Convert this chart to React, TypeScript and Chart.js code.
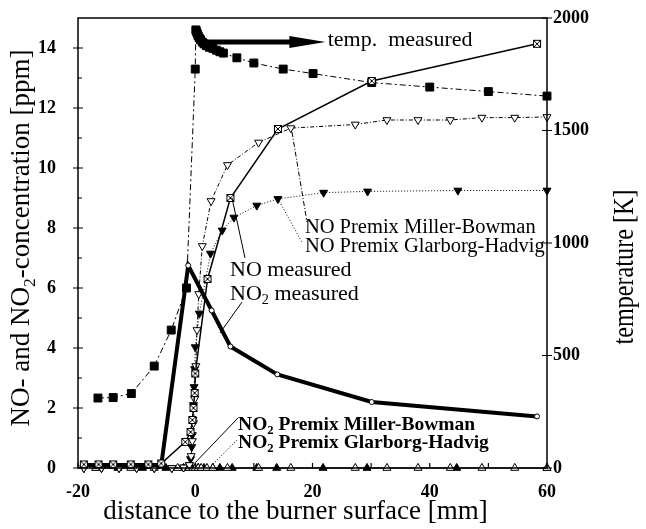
import React, { useEffect, useRef } from 'react';
import { Chart, registerables } from 'chart.js';

Chart.register(...registerables);

// ---------- data (x in mm, NO/NO2 in ppm, temperature in K) ----------
const tempX = [-16.6, -14.0, -10.9, -7.0, -4.1, -1.5, 0.0, 0.1, 0.2, 0.35, 0.5, 0.7, 0.9, 1.2, 1.5, 1.9, 2.4, 3.0, 3.6, 4.2, 4.8, 7.1, 10.0, 15.0, 20.1, 30.1, 40.0, 50.0, 60.0];
const tempK = [311, 313, 331, 453, 613, 800, 1773, 1947, 1940, 1930, 1920, 1911, 1903, 1893, 1885, 1877, 1870, 1865, 1857, 1850, 1844, 1823, 1800, 1773, 1753, 1713, 1693, 1673, 1653];

const noMeasX = [-19.0, -16.5, -14.0, -11.0, -8.0, -5.8, -1.7, -0.8, -0.5, -0.3, -0.1, 0.0, 2.1, 6.0, 14.1, 30.1, 58.3];
const noMeasY = [0.12, 0.12, 0.12, 0.12, 0.12, 0.15, 0.87, 1.2, 1.6, 2.0, 2.5, 3.15, 6.3, 9.0, 11.3, 12.9, 14.14];

const no2MeasX = [-19.0, -16.5, -14.0, -11.0, -8.0, -5.8, -1.2, 2.8, 6.0, 14.0, 30.1, 58.3];
const no2MeasY = [0.1, 0.1, 0.1, 0.1, 0.1, 0.1, 6.75, 5.25, 4.05, 3.12, 2.2, 1.72];

const noMBX = [-19, -16, -13, -10, -7, -4, -2, -1.0, -0.7, -0.5, -0.3, -0.1, 0.1, 0.3, 0.6, 1.2, 2.7, 5.5, 10.8, 16.3, 27.3, 32.7, 38.0, 43.5, 48.9, 54.5, 60];
const noMBY = [0, 0, 0, 0, 0, 0, 0.02, 0.1, 0.4, 0.9, 1.5, 2.3, 3.4, 4.6, 5.8, 7.4, 8.9, 10.1, 10.85, 11.33, 11.45, 11.6, 11.6, 11.6, 11.68, 11.68, 11.7];

const noGHX = [-19, -16, -13, -10, -7, -4, -2, -1.0, -0.8, -0.6, -0.5, -0.4, -0.3, -0.2, -0.1, 0.0, 0.7, 2.6, 4.6, 6.6, 10.5, 14.1, 21.9, 29.4, 44.8, 60];
const noGHY = [0, 0, 0, 0, 0, 0, 0.02, 0.1, 0.3, 0.7, 1.1, 1.6, 2.1, 2.7, 3.3, 4.03, 5.15, 7.15, 7.92, 8.35, 8.75, 8.97, 9.18, 9.22, 9.25, 9.25];

const no2MBX = [-17, -11, -7, -3, -1, 0, 0.5, 1.0, 2.0, 3.0, 5.5, 10.8, 16.3, 27.3, 32.7, 38.0, 43.5, 48.9, 54.5, 60];
const no2MBY = [0, 0, 0, 0, 0, 0, 0, 0, 0, 0, 0, 0, 0, 0, 0, 0, 0, 0, 0, 0];

const no2GHX = [-16.8, -13.2, -9, -5, -2, -0.5, 0.5, 1.5, 3.0, 4.2, 6.3, 10.5, 13.9, 21.8, 29.3, 44.6, 60];
const no2GHY = [0, 0, 0, 0, 0, 0, 0, 0, 0, 0, 0, 0, 0, 0, 0, 0, 0];

// axis ranges / ticks
const xRange = [-20, 60];
const yRange = [0, 15];
const tRange = [0, 2000];

// annotation anchors (data coordinates: x in mm, y in ppm)
type Seg = { t: string; sub?: boolean };
const labels: { segs: Seg[]; x: number; y: number; size: number; bold: boolean }[] = [
  { segs: [{ t: 'temp.  measured' }], x: 22.6, y: 14.27, size: 22, bold: false },
  { segs: [{ t: 'NO Premix Miller-Bowman' }], x: 18.7, y: 8.0, size: 20.5, bold: false },
  { segs: [{ t: 'NO Premix Glarborg-Hadvig' }], x: 18.7, y: 7.37, size: 20.5, bold: false },
  { segs: [{ t: 'NO measured' }], x: 5.93, y: 6.6, size: 22, bold: false },
  { segs: [{ t: 'NO' }, { t: '2', sub: true }, { t: ' measured' }], x: 5.93, y: 5.8, size: 22, bold: false },
  { segs: [{ t: 'NO' }, { t: '2', sub: true }, { t: ' Premix Miller-Bowman' }], x: 7.3, y: 1.43, size: 19.5, bold: true },
  { segs: [{ t: 'NO' }, { t: '2', sub: true }, { t: ' Premix Glarborg-Hadvig' }], x: 7.3, y: 0.83, size: 19.5, bold: true },
];
const leaders: { x0: number; y0: number; x1: number; y1: number; dash: number[] }[] = [
  { x0: 16.5, y0: 11.2, x1: 19.06, y1: 8.2, dash: [5, 2, 1, 2] },
  { x0: 14.1, y0: 8.97, x1: 18.2, y1: 7.53, dash: [1, 2] },
  { x0: 6.27, y0: 9.0, x1: 8.49, y1: 7.0, dash: [] },
  { x0: 7.97, y0: 5.53, x1: 4.22, y1: 4.5, dash: [] },
  { x0: 7.3, y0: 1.67, x1: -0.04, y1: 0.17, dash: [] },
  { x0: 7.12, y0: 0.93, x1: 2.86, y1: 0.1, dash: [1, 2] },
];
const arrow = { x0: 1.4, x1: 22.2, y: 14.2 };

const SERIF = "'Liberation Serif', 'Times New Roman', serif";

function pts(xs: number[], ys: number[]) {
  return xs.map((x, i) => ({ x, y: ys[i] }));
}

function makeBoxX(): HTMLCanvasElement {
  const c = document.createElement('canvas');
  c.width = 10;
  c.height = 10;
  const g = c.getContext('2d')!;
  g.fillStyle = '#fff';
  g.fillRect(1, 1, 8, 8);
  g.strokeStyle = '#000';
  g.lineWidth = 1;
  g.strokeRect(1.5, 1.5, 7, 7);
  g.beginPath();
  g.moveTo(1.5, 1.5);
  g.lineTo(8.5, 8.5);
  g.moveTo(8.5, 1.5);
  g.lineTo(1.5, 8.5);
  g.stroke();
  return c;
}

function richWidth(ctx: CanvasRenderingContext2D, segs: Seg[], size: number, bold: boolean) {
  let w = 0;
  for (const s of segs) {
    const fs = s.sub ? size * 0.65 : size;
    ctx.font = `${bold ? 'bold ' : ''}${fs}px ${SERIF}`;
    w += ctx.measureText(s.t).width;
  }
  return w;
}

function drawRich(ctx: CanvasRenderingContext2D, segs: Seg[], x: number, y: number, size: number, bold: boolean) {
  ctx.textBaseline = 'middle';
  ctx.textAlign = 'left';
  let cx = x;
  for (const s of segs) {
    const fs = s.sub ? size * 0.65 : size;
    ctx.font = `${bold ? 'bold ' : ''}${fs}px ${SERIF}`;
    ctx.fillText(s.t, cx, s.sub ? y + size * 0.3 : y);
    cx += ctx.measureText(s.t).width;
  }
}

const decorPlugin = {
  id: 'decor',
  afterDraw(chart: any) {
    const ctx: CanvasRenderingContext2D = chart.ctx;
    const { left, right, top, bottom } = chart.chartArea;
    const sx = chart.scales.x;
    const sy = chart.scales.y;
    const st = chart.scales.y2;
    ctx.save();
    ctx.strokeStyle = '#000';
    ctx.fillStyle = '#000';
    // frame
    ctx.lineWidth = 1.5;
    ctx.strokeRect(left, top, right - left, bottom - top);
    // tick marks
    ctx.lineWidth = 1.2;
    ctx.beginPath();
    for (let v = xRange[0]; v <= xRange[1]; v += 10) {
      const px = sx.getPixelForValue(v);
      ctx.moveTo(px, bottom);
      ctx.lineTo(px, bottom - 5);
    }
    for (let v = yRange[0]; v < yRange[1]; v += 1) {
      const py = sy.getPixelForValue(v);
      if (v % 2 === 0) {
        ctx.moveTo(left - 5, py);
        ctx.lineTo(left + 5, py);
      } else {
        ctx.moveTo(left, py);
        ctx.lineTo(left + 4, py);
      }
    }
    for (let v = tRange[0]; v <= tRange[1]; v += 500) {
      const py = st.getPixelForValue(v);
      ctx.moveTo(right - 5, py);
      ctx.lineTo(right + 5, py);
    }
    ctx.stroke();

    // leader lines
    ctx.lineWidth = 1;
    for (const l of leaders) {
      ctx.setLineDash(l.dash);
      ctx.beginPath();
      ctx.moveTo(sx.getPixelForValue(l.x0), sy.getPixelForValue(l.y0));
      ctx.lineTo(sx.getPixelForValue(l.x1), sy.getPixelForValue(l.y1));
      ctx.stroke();
    }
    ctx.setLineDash([]);

    // arrow for temperature
    const ax0 = sx.getPixelForValue(arrow.x0);
    const ax1 = sx.getPixelForValue(arrow.x1);
    const ay = sy.getPixelForValue(arrow.y);
    ctx.lineWidth = 5;
    ctx.beginPath();
    ctx.moveTo(ax0, ay);
    ctx.lineTo(ax1 - 34, ay);
    ctx.stroke();
    ctx.beginPath();
    ctx.moveTo(ax1 - 36, ay - 6);
    ctx.lineTo(ax1, ay);
    ctx.lineTo(ax1 - 36, ay + 6);
    ctx.closePath();
    ctx.fill();

    // labels
    for (const lb of labels) {
      drawRich(ctx, lb.segs, sx.getPixelForValue(lb.x), sy.getPixelForValue(lb.y), lb.size, lb.bold);
    }

    // axis titles
    const cxArea = (left + right) / 2;
    ctx.font = `27px ${SERIF}`;
    ctx.textAlign = 'center';
    ctx.textBaseline = 'middle';
    ctx.fillText('distance to the burner surface [mm]', cxArea - 17, bottom + 44);

    const ySegs: Seg[] = [{ t: 'NO- and NO' }, { t: '2', sub: true }, { t: '-concentration [ppm]' }];
    const yw = richWidth(ctx, ySegs, 27, false);
    ctx.save();
    ctx.translate(left - 56, (top + bottom) / 2 - 5);
    ctx.rotate(-Math.PI / 2);
    drawRich(ctx, ySegs, -yw / 2, 0, 27, false);
    ctx.restore();

    ctx.save();
    ctx.font = `26px ${SERIF}`;
    const tt = 'temperature [K]';
    const tw = ctx.measureText(tt).width;
    ctx.translate(right + 78, 267);
    ctx.rotate(-Math.PI / 2);
    ctx.scale(155 / tw, 1.1);
    ctx.textAlign = 'center';
    ctx.textBaseline = 'middle';
    ctx.fillText(tt, 0, 0);
    ctx.restore();

    ctx.restore();
  },
};

export default function App() {
  const ref = useRef<HTMLCanvasElement | null>(null);
  useEffect(() => {
    if (!ref.current) return;
    const boxX = makeBoxX();
    const tickFont = { family: SERIF, size: 18, weight: 'bold' as const };
    const plain = (v: any) => String(v);
    const chart = new Chart(ref.current, {
      type: 'line',
      data: {
        datasets: [
          {
            label: 'NO measured',
            data: pts(noMeasX, noMeasY),
            yAxisID: 'y',
            borderColor: '#000',
            borderWidth: 1.5,
            pointStyle: boxX as any,
            pointRadius: 4,
            clip: false as any,
          },
          {
            label: 'NO2 measured',
            data: pts(no2MeasX, no2MeasY),
            yAxisID: 'y',
            borderColor: '#000',
            borderWidth: 4,
            pointStyle: 'circle',
            pointRadius: 2.5,
            pointBorderWidth: 1,
            pointBackgroundColor: '#fff',
            pointBorderColor: '#000',
            clip: false as any,
          },
          {
            label: 'temp. measured',
            data: pts(tempX, tempK),
            yAxisID: 'y2',
            borderColor: '#000',
            borderWidth: 1,
            borderDash: [6, 3, 2, 3],
            pointStyle: 'rect',
            pointRadius: 5.6,
            pointBackgroundColor: '#000',
            pointBorderColor: '#000',
            clip: false as any,
          },
          {
            label: 'NO Premix Miller-Bowman',
            data: pts(noMBX, noMBY),
            yAxisID: 'y',
            borderColor: '#000',
            borderWidth: 1,
            borderDash: [4, 2, 1, 2],
            pointStyle: 'triangle',
            rotation: 180,
            pointRadius: 4.6,
            pointBorderWidth: 1,
            pointBackgroundColor: '#fff',
            pointBorderColor: '#000',
            clip: false as any,
          } as any,
          {
            label: 'NO Premix Glarborg-Hadvig',
            data: pts(noGHX, noGHY),
            yAxisID: 'y',
            borderColor: '#000',
            borderWidth: 1,
            borderDash: [1, 2],
            pointStyle: 'triangle',
            rotation: 180,
            pointRadius: 4.6,
            pointBackgroundColor: '#000',
            pointBorderColor: '#000',
            clip: false as any,
          } as any,
          {
            label: 'NO2 Premix Miller-Bowman',
            data: pts(no2MBX, no2MBY),
            yAxisID: 'y',
            borderColor: '#000',
            borderWidth: 1,
            borderDash: [1, 2],
            pointStyle: 'triangle',
            pointRadius: 4.6,
            pointBorderWidth: 1,
            pointBackgroundColor: '#fff',
            pointBorderColor: '#000',
            clip: false as any,
          },
          {
            label: 'NO2 Premix Glarborg-Hadvig',
            data: pts(no2GHX, no2GHY),
            yAxisID: 'y',
            borderColor: '#000',
            borderWidth: 1,
            pointStyle: 'triangle',
            pointRadius: 4.6,
            pointBackgroundColor: '#000',
            pointBorderColor: '#000',
            clip: false as any,
          },
        ],
      },
      options: {
        animation: false,
        responsive: false,
        maintainAspectRatio: false,
        layout: { padding: { top: 18, left: 0, right: 0, bottom: 0 } },
        plugins: { legend: { display: false }, tooltip: { enabled: false } },
        elements: { line: { tension: 0 } },
        scales: {
          x: {
            type: 'linear',
            min: xRange[0],
            max: xRange[1],
            grid: { display: false, drawTicks: false },
            border: { display: false },
            ticks: { stepSize: 20, font: tickFont, color: '#000', padding: 14, maxRotation: 0, autoSkip: false, includeBounds: false, callback: plain },
            afterFit: (s: any) => { s.height = 61; s.paddingLeft = 0; s.paddingRight = 0; },
          },
          y: {
            type: 'linear',
            position: 'left',
            min: yRange[0],
            max: yRange[1],
            grid: { display: false, drawTicks: false },
            border: { display: false },
            ticks: { stepSize: 2, font: tickFont, color: '#000', padding: 22, includeBounds: false, callback: plain },
            afterFit: (s: any) => { s.width = 78; s.paddingTop = 0; s.paddingBottom = 0; },
          },
          y2: {
            type: 'linear',
            position: 'right',
            min: tRange[0],
            max: tRange[1],
            grid: { display: false, drawTicks: false },
            border: { display: false },
            ticks: { stepSize: 500, font: tickFont, color: '#000', padding: 6, includeBounds: false, callback: plain },
            afterFit: (s: any) => { s.width = 99; s.paddingTop = 0; s.paddingBottom = 0; },
          },
        },
      } as any,
      plugins: [decorPlugin],
    });
    return () => chart.destroy();
  }, []);
  return (
    <div style={{ position: 'fixed', left: 0, top: 0, width: 646, height: 529, background: '#fff' }}>
      <canvas ref={ref} width={646} height={529} style={{ display: 'block' }} />
    </div>
  );
}
